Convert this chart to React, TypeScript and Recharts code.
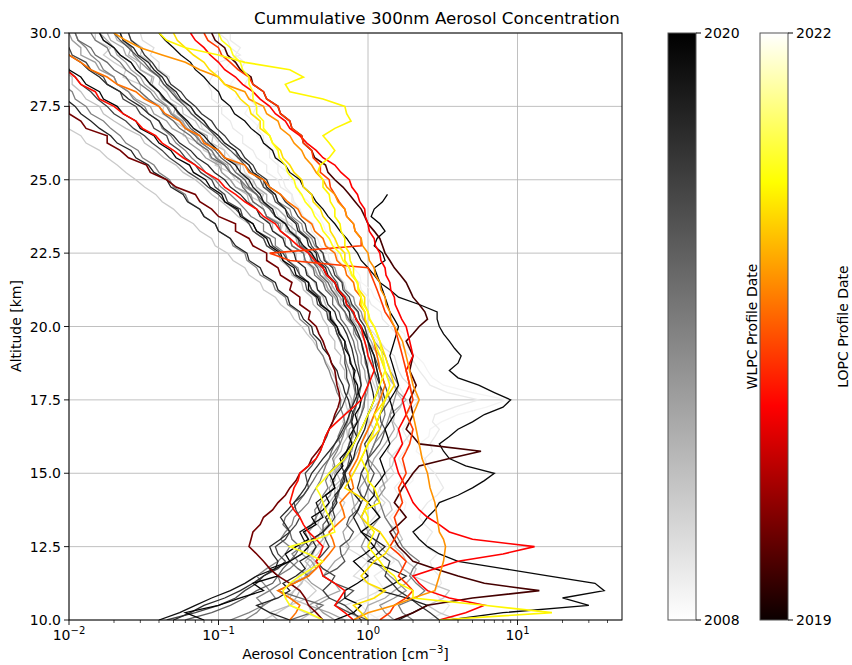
import { CartesianGrid, Line, LineChart, XAxis, YAxis } from 'recharts'

// altitude levels (km) shared by every profile: 10 to 30 in 0.25 km steps
const altitudes = [
  10, 10.25, 10.5, 10.75, 11, 11.25, 11.5, 11.75, 12, 12.25, 12.5, 12.75, 13, 13.25, 13.5, 13.75, 14, 14.25, 14.5, 14.75,
  15, 15.25, 15.5, 15.75, 16, 16.25, 16.5, 16.75, 17, 17.25, 17.5, 17.75, 18, 18.25, 18.5, 18.75, 19, 19.25, 19.5, 19.75,
  20, 20.25, 20.5, 20.75, 21, 21.25, 21.5, 21.75, 22, 22.25, 22.5, 22.75, 23, 23.25, 23.5, 23.75, 24, 24.25, 24.5, 24.75,
  25, 25.25, 25.5, 25.75, 26, 26.25, 26.5, 26.75, 27, 27.25, 27.5, 27.75, 28, 28.25, 28.5, 28.75, 29, 29.25, 29.5, 29.75,
  30,
]

// WLPC launches (decimal year), oldest first
const wlpcDates = [2008.5, 2008.9, 2009.0, 2009.6, 2010.2, 2010.5, 2010.8, 2011.0, 2011.4, 2012.0, 2012.3, 2012.6, 2013.2, 2013.8, 2014.0, 2014.4, 2015.0, 2015.6, 2016.2, 2016.8, 2017.0, 2017.4, 2018.0, 2018.3, 2018.6, 2019.2, 2019.6, 2019.9, 2020.0]

// cumulative >300nm concentration [cm^-3] at each altitude level
const wlpcProfiles: (number | null)[][] = [
  [1.0, 1.4, 1.25, 1.1, 1.15, 1.45, 1.5, 1.3, 1.2, 1.45, 1.65, 1.4, 1.45, 1.6, 1.5, 1.75, 1.8, 1.6, 1.75, 2.0,
    2.0, 2.35, 2.4, 2.1, 2.2, 2.55, 2.6, 3.1, 4.0, 6.2, 8.5, 5.0, 3.2, 2.7, 2.5, 2.35, 2.1, 1.85, 1.8, 1.75,
    1.5, 1.45, 1.3, 1.25, 1.1, 1.05, 0.9, 0.88, 0.8, 0.7, 0.7, 0.6, 0.6, 0.52, 0.5, 0.47, 0.42, 0.4, 0.35, 0.34,
    0.3, 0.29, 0.25, 0.25, 0.22, 0.21, 0.18, 0.19, 0.17, 0.15, 0.16, 0.13, 0.14, 0.12, 0.13, 0.11, 0.12, 0.1, 0.11, 0.09,
    0.1],
  [1.2, 1.0, 0.9, 1.1, 1.3, 1.2, 1.1, 1.3, 1.5, 1.4, 1.3, 1.45, 1.6, 1.5, 1.4, 1.55, 1.7, 1.6, 1.5, 1.65,
    1.8, 1.7, 1.6, 1.75, 1.9, 1.8, 1.7, 1.85, 2.0, 1.9, 1.8, 1.7, 1.6, 1.5, 1.45, 1.35, 1.3, 1.2, 1.15, 1.05,
    1.0, 0.92, 0.9, 0.82, 0.8, 0.72, 0.7, 0.63, 0.6, 0.55, 0.54, 0.48, 0.46, 0.42, 0.41, 0.36, 0.35, 0.32, 0.31, 0.28,
    0.27, 0.25, 0.25, 0.22, 0.22, 0.2, 0.2, 0.18, 0.19, 0.17, 0.18, 0.16, 0.17, 0.15, 0.16, 0.14, 0.15, 0.13, 0.14, 0.12,
    0.12],
  [2.5, 3.2, 3.5, 3.0, 2.8, 3.1, 3.0, 2.7, 2.6, 2.9, 2.4, 2.5, 2.7, 2.4, 2.2, 2.3, 2.5, 2.9, 3.2, 3.0,
    2.8, 2.5, 2.4, 2.7, 2.6, 2.8, 3.0, 2.7, 2.8, 3.8, 5.5, 3.4, 2.6, 2.4, 2.2, 2.05, 1.9, 1.75, 1.6, 1.55,
    1.4, 1.25, 1.22, 1.05, 1.0, 0.9, 0.88, 0.76, 0.72, 0.63, 0.62, 0.53, 0.5, 0.44, 0.43, 0.37, 0.35, 0.31, 0.31, 0.26,
    0.25, 0.21, 0.21, 0.18, 0.17, 0.145, 0.145, 0.125, 0.12, 0.105, 0.105, 0.09, 0.09, 0.085, 0.09, 0.1, 0.1, 0.14, 0.12, 0.115,
    0.1],
  [0.9, 0.75, 0.7, 0.95, 1.2, 1.0, 0.8, 0.9, 1.0, 0.85, 0.7, 0.8, 0.9, 1.0, 1.1, 1.2, 1.3, 1.15, 1.2, 1.35,
    1.5, 1.4, 1.4, 1.55, 1.7, 1.85, 2.0, 1.9, 1.8, 2.0, 2.2, 2.0, 1.9, 1.7, 1.6, 1.55, 1.5, 1.3, 1.2, 1.1,
    1.0, 0.92, 0.85, 0.78, 0.7, 0.64, 0.63, 0.53, 0.5, 0.45, 0.44, 0.36, 0.35, 0.31, 0.31, 0.25, 0.24, 0.21, 0.21, 0.17,
    0.17, 0.15, 0.145, 0.12, 0.11, 0.1, 0.092, 0.078, 0.075, 0.065, 0.063, 0.052, 0.05, 0.046, 0.047, 0.04, 0.04, 0.035, 0.037, 0.031,
    0.03],
  [0.5, 0.38, 0.3, 0.4, 0.45, 0.4, 0.35, 0.38, 0.4, 0.46, 0.5, 0.52, 0.55, 0.6, 0.6, 0.66, 0.7, 0.62, 0.65, 0.72,
    0.8, 0.85, 0.9, 0.95, 1.0, 1.08, 1.1, 1.02, 1.0, 1.1, 1.2, 1.15, 1.1, 1.05, 1.0, 0.98, 0.95, 0.92, 0.9, 0.85,
    0.8, 0.75, 0.7, 0.64, 0.6, 0.55, 0.5, 0.46, 0.42, 0.37, 0.38, 0.31, 0.3, 0.26, 0.27, 0.21, 0.2, 0.19, 0.155, 0.15,
    0.13, 0.12, 0.095, 0.1, 0.08, 0.075, 0.058, 0.06, 0.05, 0.042, 0.043, 0.033, 0.03, 0.03, 0.023, 0.024, 0.02, 0.017, 0.019, 0.015,
    0.015],
  [0.2, 0.25, 0.3, 0.28, 0.32, 0.36, 0.34, 0.4, 0.44, 0.4, 0.46, 0.5, 0.48, 0.54, 0.58, 0.55, 0.6, 0.64, 0.62, 0.68,
    0.7, 0.66, 0.72, 0.76, 0.74, 0.78, 0.8, 0.76, 0.75, 0.72, 0.7, 0.66, 0.64, 0.6, 0.57, 0.53, 0.5, 0.46, 0.43, 0.39,
    0.36, 0.32, 0.3, 0.26, 0.24, 0.2, 0.19, 0.16, 0.15, 0.125, 0.115, 0.095, 0.09, 0.075, 0.068, 0.056, 0.05, 0.042, 0.038, 0.032,
    0.028, 0.024, 0.021, 0.018, 0.016, 0.013, 0.012, 0.0098, 0.009, 0.0078, 0.007, 0.0062, 0.006, 0.0055, 0.005, 0.005, 0.005, 0.005, 0.005, 0.005,
    0.005],
  [4.0, 3.0, 2.5, 3.2, 3.5, 2.6, 2.0, 2.1, 1.8, 1.7, 1.5, 1.7, 1.6, 1.4, 1.3, 1.45, 1.4, 1.25, 1.2, 1.35,
    1.3, 1.45, 1.5, 1.35, 1.4, 1.55, 1.6, 1.48, 1.5, 1.65, 1.7, 1.55, 1.5, 1.35, 1.3, 1.28, 1.2, 1.08, 1.0, 0.96,
    0.9, 0.8, 0.8, 0.66, 0.65, 0.57, 0.58, 0.48, 0.48, 0.41, 0.42, 0.35, 0.34, 0.28, 0.29, 0.24, 0.23, 0.19, 0.2, 0.16,
    0.16, 0.13, 0.135, 0.11, 0.11, 0.09, 0.092, 0.075, 0.07, 0.058, 0.057, 0.048, 0.045, 0.04, 0.041, 0.035, 0.035, 0.03, 0.031, 0.026,
    0.025],
  [0.35, 0.42, 0.4, 0.3, 0.32, 0.36, 0.38, 0.42, 0.45, 0.39, 0.4, 0.46, 0.48, 0.55, 0.52, 0.47, 0.5, 0.56, 0.58, 0.65,
    0.62, 0.58, 0.6, 0.66, 0.68, 0.73, 0.72, 0.68, 0.7, 0.76, 0.78, 0.74, 0.75, 0.7, 0.7, 0.65, 0.66, 0.6, 0.6, 0.55,
    0.54, 0.5, 0.48, 0.43, 0.42, 0.37, 0.36, 0.31, 0.3, 0.26, 0.25, 0.21, 0.2, 0.17, 0.16, 0.135, 0.12, 0.105, 0.09, 0.08,
    0.07, 0.058, 0.052, 0.043, 0.038, 0.032, 0.03, 0.024, 0.02, 0.017, 0.016, 0.013, 0.012, 0.0105, 0.0105, 0.009, 0.009, 0.008, 0.0082, 0.0072,
    0.007],
  [0.25, 0.22, 0.3, 0.33, 0.35, 0.3, 0.4, 0.42, 0.38, 0.43, 0.45, 0.5, 0.5, 0.46, 0.48, 0.52, 0.55, 0.6, 0.6, 0.56,
    0.58, 0.64, 0.7, 0.72, 0.75, 0.8, 0.8, 0.84, 0.85, 0.88, 0.9, 0.86, 0.85, 0.82, 0.8, 0.77, 0.75, 0.72, 0.7, 0.65,
    0.62, 0.58, 0.55, 0.52, 0.5, 0.46, 0.44, 0.4, 0.38, 0.33, 0.33, 0.28, 0.28, 0.23, 0.23, 0.19, 0.18, 0.16, 0.155, 0.13,
    0.12, 0.105, 0.104, 0.088, 0.085, 0.072, 0.072, 0.06, 0.058, 0.05, 0.052, 0.042, 0.04, 0.036, 0.037, 0.03, 0.03, 0.025, 0.026, 0.021,
    0.02],
  [0.8, 0.95, 1.0, 1.3, 1.5, 1.8, 2.0, 1.7, 1.6, 1.35, 1.2, 1.1, 1.0, 0.95, 0.9, 0.82, 0.8, 0.78, 0.75, 0.72,
    0.7, 0.76, 0.8, 0.85, 0.9, 0.94, 1.0, 1.06, 1.1, 1.15, 1.2, 1.18, 1.15, 1.12, 1.1, 1.04, 1.0, 0.98, 0.95, 0.9,
    0.85, 0.78, 0.75, 0.7, 0.65, 0.6, 0.56, 0.51, 0.48, 0.42, 0.41, 0.34, 0.33, 0.33, 0.29, 0.28, 0.25, 0.21, 0.21, 0.18,
    0.17, 0.14, 0.14, 0.11, 0.1, 0.085, 0.084, 0.068, 0.062, 0.053, 0.052, 0.043, 0.04, 0.035, 0.036, 0.03, 0.028, 0.024, 0.023, 0.019,
    0.018],
  [0.7, 0.55, 0.4, 0.5, 0.65, 0.6, 0.5, 0.55, 0.6, 0.7, 0.75, 0.7, 0.68, 0.74, 0.8, 0.78, 0.85, 0.9, 0.88, 0.95,
    1.0, 1.05, 1.1, 1.2, 1.3, 1.4, 1.5, 1.45, 1.4, 1.6, 1.8, 1.6, 1.5, 1.4, 1.3, 1.25, 1.2, 1.1, 1.05, 0.98,
    0.95, 0.88, 0.85, 0.76, 0.72, 0.64, 0.6, 0.52, 0.5, 0.43, 0.42, 0.35, 0.34, 0.29, 0.28, 0.24, 0.23, 0.19, 0.18, 0.15,
    0.14, 0.12, 0.115, 0.097, 0.09, 0.077, 0.072, 0.062, 0.057, 0.049, 0.046, 0.04, 0.037, 0.032, 0.03, 0.026, 0.024, 0.021, 0.02, 0.018,
    0.016],
  [0.6, 0.5, 0.45, 0.55, 0.5, 0.42, 0.38, 0.45, 0.42, 0.36, 0.35, 0.42, 0.4, 0.44, 0.45, 0.48, 0.5, 0.56, 0.55, 0.6,
    0.6, 0.66, 0.7, 0.78, 0.8, 0.74, 0.75, 0.85, 0.9, 0.92, 0.95, 0.99, 1.0, 0.96, 0.95, 0.9, 0.9, 0.86, 0.85, 0.8,
    0.8, 0.72, 0.7, 0.63, 0.6, 0.54, 0.52, 0.46, 0.44, 0.38, 0.37, 0.31, 0.3, 0.26, 0.26, 0.21, 0.2, 0.17, 0.165, 0.13,
    0.12, 0.105, 0.1, 0.082, 0.075, 0.064, 0.06, 0.049, 0.045, 0.037, 0.035, 0.028, 0.025, 0.021, 0.02, 0.016, 0.015, 0.012, 0.012, 0.0105,
    0.01],
  [1.5, 1.3, 1.2, 1.5, 1.8, 1.6, 1.4, 1.25, 1.1, 0.98, 0.9, 0.95, 1.0, 1.1, 1.2, 1.12, 1.1, 1.2, 1.3, 1.25,
    1.2, 1.1, 1.0, 1.05, 1.1, 1.2, 1.3, 1.35, 1.4, 1.45, 1.5, 1.55, 1.6, 1.5, 1.4, 1.35, 1.3, 1.2, 1.1, 1.05,
    1.0, 0.93, 0.9, 0.82, 0.8, 0.7, 0.68, 0.62, 0.6, 0.52, 0.5, 0.44, 0.42, 0.37, 0.36, 0.31, 0.3, 0.25, 0.24, 0.2,
    0.2, 0.17, 0.16, 0.135, 0.13, 0.11, 0.1, 0.086, 0.08, 0.07, 0.065, 0.054, 0.05, 0.043, 0.04, 0.034, 0.03, 0.027, 0.026, 0.023,
    0.022],
  [0.15, 0.18, 0.2, 0.24, 0.22, 0.2, 0.18, 0.21, 0.25, 0.28, 0.3, 0.26, 0.28, 0.31, 0.32, 0.36, 0.4, 0.42, 0.45, 0.48,
    0.5, 0.52, 0.55, 0.6, 0.65, 0.68, 0.7, 0.73, 0.75, 0.78, 0.8, 0.82, 0.8, 0.78, 0.75, 0.72, 0.7, 0.68, 0.65, 0.62,
    0.6, 0.55, 0.55, 0.48, 0.48, 0.42, 0.4, 0.35, 0.34, 0.29, 0.28, 0.24, 0.24, 0.2, 0.2, 0.165, 0.15, 0.135, 0.12, 0.104,
    0.095, 0.082, 0.075, 0.066, 0.06, 0.052, 0.048, 0.042, 0.04, 0.034, 0.032, 0.027, 0.025, 0.021, 0.02, 0.017, 0.016, 0.014, 0.013, 0.0115,
    0.011],
  [0.12, 0.16, 0.2, 0.18, 0.22, 0.26, 0.25, 0.3, 0.34, 0.31, 0.36, 0.4, 0.38, 0.42, 0.45, 0.44, 0.48, 0.5, 0.54, 0.52,
    0.55, 0.6, 0.58, 0.62, 0.65, 0.63, 0.66, 0.7, 0.68, 0.65, 0.66, 0.62, 0.6, 0.57, 0.55, 0.52, 0.5, 0.46, 0.45, 0.41,
    0.4, 0.35, 0.34, 0.29, 0.28, 0.24, 0.23, 0.19, 0.18, 0.155, 0.15, 0.125, 0.12, 0.1, 0.095, 0.08, 0.075, 0.063, 0.06, 0.05,
    0.047, 0.04, 0.037, 0.031, 0.029, 0.024, 0.022, 0.019, 0.017, 0.014, 0.013, 0.011, 0.0105, 0.009, 0.0085, 0.0075, 0.007, 0.0065, 0.006, 0.0055,
    0.005],
  [2.0, 1.7, 1.6, 2.1, 2.4, 2.1, 1.9, 2.0, 2.2, 1.9, 1.7, 1.6, 1.5, 1.4, 1.3, 1.25, 1.2, 1.1, 1.0, 0.95,
    0.9, 0.95, 1.0, 1.05, 1.1, 1.15, 1.2, 1.25, 1.3, 1.28, 1.25, 1.22, 1.2, 1.18, 1.15, 1.12, 1.1, 1.05, 1.0, 0.95,
    0.9, 0.83, 0.8, 0.72, 0.7, 0.63, 0.6, 0.53, 0.5, 0.44, 0.42, 0.36, 0.35, 0.3, 0.28, 0.24, 0.22, 0.19, 0.18, 0.155,
    0.14, 0.12, 0.11, 0.096, 0.09, 0.077, 0.07, 0.06, 0.055, 0.048, 0.045, 0.038, 0.035, 0.03, 0.028, 0.024, 0.022, 0.019, 0.018, 0.015,
    0.014],
  [0.3, 0.42, 0.5, 0.35, 0.25, 0.32, 0.4, 0.34, 0.3, 0.33, 0.35, 0.31, 0.3, 0.27, 0.28, 0.31, 0.34, 0.37, 0.4, 0.43,
    0.46, 0.5, 0.55, 0.57, 0.6, 0.66, 0.7, 0.76, 0.8, 0.83, 0.85, 0.88, 0.9, 0.89, 0.88, 0.86, 0.85, 0.82, 0.8, 0.76,
    0.72, 0.66, 0.64, 0.58, 0.58, 0.52, 0.5, 0.44, 0.43, 0.38, 0.37, 0.31, 0.3, 0.26, 0.25, 0.21, 0.2, 0.17, 0.16, 0.145,
    0.14, 0.12, 0.11, 0.09, 0.085, 0.072, 0.065, 0.055, 0.05, 0.043, 0.04, 0.034, 0.03, 0.026, 0.024, 0.02, 0.018, 0.015, 0.014, 0.0115,
    0.011],
  [0.06, 0.09, 0.12, 0.15, 0.18, 0.23, 0.25, 0.27, 0.3, 0.36, 0.4, 0.43, 0.5, 0.5, 0.55, 0.56, 0.6, 0.63, 0.65, 0.66,
    0.7, 0.73, 0.75, 0.76, 0.8, 0.84, 0.85, 0.86, 0.9, 0.94, 0.95, 0.96, 1.0, 1.02, 1.0, 0.96, 0.95, 0.93, 0.9, 0.83,
    0.8, 0.74, 0.7, 0.64, 0.62, 0.57, 0.54, 0.48, 0.46, 0.42, 0.4, 0.35, 0.34, 0.3, 0.28, 0.24, 0.22, 0.2, 0.18, 0.16,
    0.15, 0.13, 0.12, 0.104, 0.095, 0.083, 0.075, 0.065, 0.06, 0.054, 0.05, 0.043, 0.04, 0.035, 0.032, 0.028, 0.026, 0.022, 0.02, 0.017,
    0.016],
  [1.0, 0.75, 0.6, 0.7, 0.8, 0.6, 0.5, 0.62, 0.7, 0.66, 0.65, 0.75, 0.8, 0.72, 0.75, 0.85, 0.9, 0.96, 1.0, 1.05,
    1.1, 1.02, 1.0, 1.1, 1.2, 1.26, 1.3, 1.22, 1.2, 1.3, 1.4, 1.35, 1.3, 1.25, 1.2, 1.15, 1.1, 1.04, 1.0, 0.94,
    0.88, 0.84, 0.78, 0.75, 0.7, 0.64, 0.62, 0.57, 0.54, 0.48, 0.46, 0.42, 0.4, 0.35, 0.34, 0.3, 0.28, 0.24, 0.23, 0.2,
    0.19, 0.165, 0.15, 0.135, 0.12, 0.105, 0.095, 0.085, 0.075, 0.066, 0.06, 0.053, 0.048, 0.043, 0.04, 0.035, 0.032, 0.028, 0.025, 0.022,
    0.02],
  [0.045, 0.07, 0.1, 0.13, 0.15, 0.18, 0.2, 0.25, 0.28, 0.25, 0.24, 0.28, 0.3, 0.33, 0.35, 0.33, 0.32, 0.37, 0.4, 0.39,
    0.38, 0.42, 0.45, 0.48, 0.5, 0.53, 0.55, 0.58, 0.62, 0.67, 0.7, 0.73, 0.75, 0.72, 0.72, 0.7, 0.7, 0.68, 0.66, 0.62,
    0.6, 0.54, 0.53, 0.46, 0.45, 0.39, 0.38, 0.32, 0.3, 0.27, 0.25, 0.21, 0.2, 0.17, 0.16, 0.145, 0.14, 0.115, 0.11, 0.095,
    0.09, 0.076, 0.07, 0.06, 0.055, 0.047, 0.045, 0.037, 0.035, 0.03, 0.028, 0.023, 0.022, 0.018, 0.017, 0.014, 0.013, 0.0105, 0.01, 0.0085,
    0.008],
  [0.9, 0.8, 0.7, 0.55, 0.5, 0.56, 0.6, 0.5, 0.45, 0.5, 0.55, 0.52, 0.5, 0.56, 0.6, 0.58, 0.58, 0.62, 0.65, 0.68,
    0.7, 0.66, 0.68, 0.72, 0.75, 0.78, 0.8, 0.77, 0.78, 0.82, 0.85, 0.83, 0.82, 0.8, 0.8, 0.77, 0.75, 0.72, 0.7, 0.65,
    0.62, 0.57, 0.55, 0.49, 0.47, 0.42, 0.4, 0.35, 0.33, 0.29, 0.27, 0.23, 0.22, 0.18, 0.17, 0.145, 0.13, 0.11, 0.1, 0.085,
    0.075, 0.063, 0.055, 0.047, 0.042, 0.036, 0.032, 0.027, 0.024, 0.02, 0.018, 0.0155, 0.014, 0.012, 0.011, 0.0097, 0.009, 0.0082, 0.008, 0.0072,
    0.007],
  [3.0, 2.6, 2.2, 1.9, 1.6, 1.45, 1.3, 1.35, 1.4, 1.2, 1.1, 1.15, 1.2, 1.0, 0.9, 0.95, 1.0, 0.9, 0.85, 0.88,
    0.9, 0.96, 1.0, 0.98, 0.95, 1.02, 1.1, 1.15, 1.2, 1.25, 1.3, 1.26, 1.2, 1.15, 1.1, 1.08, 1.05, 1.02, 1.0, 0.98,
    0.95, 0.88, 0.86, 0.78, 0.75, 0.68, 0.67, 0.6, 0.58, 0.51, 0.5, 0.45, 0.44, 0.39, 0.38, 0.34, 0.32, 0.28, 0.26, 0.22,
    0.21, 0.18, 0.17, 0.15, 0.14, 0.12, 0.11, 0.097, 0.09, 0.077, 0.07, 0.061, 0.056, 0.048, 0.045, 0.039, 0.036, 0.032, 0.03, 0.026,
    0.025],
  [0.05, 0.065, 0.08, 0.11, 0.14, 0.17, 0.2, 0.24, 0.25, 0.23, 0.22, 0.26, 0.3, 0.28, 0.26, 0.29, 0.32, 0.35, 0.38, 0.4,
    0.42, 0.46, 0.5, 0.55, 0.6, 0.64, 0.68, 0.72, 0.75, 0.78, 0.82, 0.86, 0.9, 0.88, 0.85, 0.82, 0.8, 0.78, 0.75, 0.72,
    0.68, 0.62, 0.6, 0.54, 0.52, 0.46, 0.45, 0.39, 0.38, 0.33, 0.32, 0.28, 0.27, 0.23, 0.22, 0.19, 0.18, 0.155, 0.14, 0.12,
    0.11, 0.094, 0.085, 0.072, 0.065, 0.055, 0.05, 0.043, 0.04, 0.034, 0.03, 0.025, 0.022, 0.018, 0.016, 0.0135, 0.012, 0.01, 0.009, 0.0077,
    0.007],
  [0.3, 0.22, 0.18, 0.25, 0.3, 0.27, 0.33, 0.38, 0.35, 0.42, 0.45, 0.42, 0.5, 0.55, 0.52, 0.58, 0.62, 0.6, 0.66, 0.7,
    0.68, 0.74, 0.78, 0.75, 0.8, 0.84, 0.8, 0.78, 0.8, 0.76, 0.74, 0.7, 0.68, 0.64, 0.62, 0.57, 0.55, 0.5, 0.48, 0.43,
    0.42, 0.37, 0.35, 0.3, 0.29, 0.25, 0.24, 0.2, 0.19, 0.16, 0.155, 0.13, 0.12, 0.1, 0.095, 0.08, 0.075, 0.062, 0.058, 0.048,
    0.045, 0.037, 0.034, 0.028, 0.026, 0.021, 0.019, 0.016, 0.014, 0.012, 0.011, 0.0095, 0.009, 0.0078, 0.0072, 0.0065, 0.006, 0.0055, 0.005, 0.005,
    0.005],
  [1.6, 2.0, 2.5, 1.8, 1.2, 1.5, 1.8, 1.4, 1.0, 1.15, 1.3, 1.1, 0.9, 0.85, 0.8, 0.86, 0.9, 0.82, 0.75, 0.72,
    0.7, 0.75, 0.8, 0.82, 0.85, 0.9, 0.95, 0.98, 1.0, 1.05, 1.1, 1.08, 1.05, 1.02, 1.0, 0.98, 0.95, 0.92, 0.9, 0.86,
    0.82, 0.76, 0.75, 0.69, 0.68, 0.62, 0.6, 0.54, 0.52, 0.46, 0.45, 0.4, 0.39, 0.34, 0.33, 0.29, 0.28, 0.25, 0.24, 0.21,
    0.2, 0.17, 0.16, 0.14, 0.13, 0.11, 0.1, 0.087, 0.08, 0.07, 0.065, 0.056, 0.052, 0.045, 0.042, 0.037, 0.034, 0.029, 0.027, 0.023,
    0.022],
  [0.04, 0.055, 0.07, 0.09, 0.12, 0.15, 0.18, 0.24, 0.3, 0.36, 0.4, 0.37, 0.35, 0.42, 0.5, 0.47, 0.45, 0.52, 0.6, 0.58,
    0.55, 0.62, 0.7, 0.75, 0.8, 0.85, 0.9, 0.95, 1.0, 1.05, 1.1, 1.15, 1.2, 1.18, 1.15, 1.12, 1.1, 1.05, 1.0, 0.95,
    0.9, 0.83, 0.8, 0.72, 0.7, 0.63, 0.6, 0.53, 0.5, 0.45, 0.42, 0.37, 0.34, 0.3, 0.28, 0.24, 0.23, 0.2, 0.19, 0.17,
    0.16, 0.14, 0.13, 0.11, 0.1, 0.088, 0.08, 0.068, 0.062, 0.055, 0.05, 0.044, 0.04, 0.035, 0.032, 0.028, 0.026, 0.022, 0.02, 0.017,
    0.016],
  [3.5, 8.0, 30.0, 20.0, 38.0, 33.0, 16.0, 8.0, 4.0, 3.0, 2.5, 2.2, 2.0, 2.3, 2.5, 2.8, 3.0, 4.0, 5.0, 6.0,
    7.0, 4.5, 3.5, 3.2, 3.0, 3.5, 4.0, 5.0, 6.0, 8.0, 9.0, 7.0, 5.5, 4.0, 3.5, 4.0, 4.2, 3.8, 3.5, 3.2,
    3.0, 2.9, 2.9, 2.2, 1.6, 1.4, 1.2, 1.1, 1.0, 0.9, 0.85, 0.78, 0.72, 0.65, 0.6, 0.54, 0.5, 0.45, 0.42, 0.37,
    0.35, 0.3, 0.28, 0.24, 0.23, 0.2, 0.19, 0.165, 0.15, 0.128, 0.12, 0.105, 0.1, 0.088, 0.08, 0.07, 0.065, 0.056, 0.05, 0.044,
    0.04],
  [0.08, 0.06, 0.1, 0.14, 0.2, 0.17, 0.25, 0.22, 0.3, 0.28, 0.33, 0.4, 0.37, 0.45, 0.42, 0.5, 0.55, 0.52, 0.6, 0.58,
    0.62, 0.68, 0.65, 0.72, 0.78, 0.75, 0.8, 0.85, 0.82, 0.88, 0.9, 0.86, 0.85, 0.8, 0.82, 0.76, 0.75, 0.7, 0.7, 0.64,
    0.62, 0.56, 0.56, 0.48, 0.46, 0.4, 0.4, 0.33, 0.32, 0.27, 0.26, 0.22, 0.21, 0.18, 0.17, 0.14, 0.135, 0.11, 0.105, 0.088,
    0.082, 0.068, 0.064, 0.052, 0.048, 0.04, 0.037, 0.03, 0.028, 0.023, 0.021, 0.017, 0.016, 0.013, 0.012, 0.01, 0.0095, 0.008, 0.0075, 0.0065,
    0.006],
  [0.6, 0.8, 0.9, 0.7, 0.7, 0.85, 1.0, 0.9, 0.8, 0.95, 1.1, 1.0, 0.9, 1.05, 1.2, 1.1, 1.0, 1.1, 1.1, 1.2,
    1.3, 1.25, 1.2, 1.3, 1.4, 1.35, 1.3, 1.4, 1.5, 1.45, 1.4, 1.5, 1.6, 1.55, 1.5, 1.45, 1.4, 1.45, 1.5, 1.55,
    1.6, 1.5, 1.4, 1.35, 1.3, 1.25, 1.2, 1.15, 1.1, 1.3, 1.25, 1.1, 1.15, 1.3, 1.2, 1.05, 1.1, 1.25, 1.35, null,
    null, null, null, null, null, null, null, null, null, null, null, null, null, null, null, null, null, null, null, null,
    null],
]

// LOPC launches (decimal year) and profiles
const lopcDates = [2019.25, 2019.45, 2020.05, 2020.15, 2020.35, 2020.6, 2020.75, 2021.1, 2021.2, 2021.3]
const lopcProfiles: (number | null)[][] = [
  [1.5, 2.0, 2.5, 5.0, 14.0, 6.0, 4.0, 2.8, 2.0, 1.8, 1.6, 1.5, 1.4, 1.6, 1.8, 1.65, 1.5, 1.6, 1.7, 1.85,
    2.0, 2.2, 3.5, 5.7, 2.2, 2.0, 1.8, 1.9, 2.0, 1.95, 1.9, 2.0, 2.1, 2.0, 1.9, 1.95, 2.0, 1.9, 1.8, 2.0,
    2.2, 2.5, 2.4, 2.2, 2.0, 1.9, 1.8, 1.65, 1.5, 1.4, 1.3, 1.25, 1.2, 1.1, 1.0, 0.95, 0.9, 0.82, 0.75, 0.68,
    0.6, 0.54, 0.52, 0.44, 0.42, 0.37, 0.36, 0.31, 0.3, 0.26, 0.25, 0.21, 0.2, 0.17, 0.165, 0.14, 0.13, 0.115, 0.11, 0.095,
    0.09],
  [0.5, 0.45, 0.4, 0.38, 0.35, 0.3, 0.25, 0.22, 0.2, 0.18, 0.16, 0.165, 0.17, 0.19, 0.2, 0.23, 0.25, 0.28, 0.3, 0.33,
    0.35, 0.4, 0.42, 0.46, 0.5, 0.52, 0.55, 0.58, 0.6, 0.63, 0.65, 0.64, 0.62, 0.61, 0.6, 0.57, 0.55, 0.52, 0.5, 0.47,
    0.45, 0.4, 0.41, 0.35, 0.35, 0.3, 0.31, 0.26, 0.25, 0.21, 0.21, 0.17, 0.16, 0.13, 0.13, 0.1, 0.09, 0.075, 0.07, 0.052,
    0.045, 0.035, 0.033, 0.025, 0.022, 0.018, 0.018, 0.013, 0.012, 0.01, 0.01, 0.008, 0.008, 0.0072, 0.0075, 0.0068, 0.007, 0.0064, 0.0066, 0.006,
    0.006],
  [3.0, 4.5, 6.0, 3.5, 2.5, 2.2, 2.0, 2.8, 4.0, 8.0, 13.0, 5.0, 3.5, 3.0, 2.5, 2.2, 2.0, 1.9, 1.8, 1.7,
    1.6, 1.55, 1.5, 1.6, 1.7, 1.65, 1.6, 1.7, 1.8, 1.75, 1.7, 1.8, 1.9, 1.85, 1.8, 1.9, 2.0, 1.95, 1.9, 1.85,
    1.8, 1.68, 1.6, 1.52, 1.5, 1.42, 1.4, 1.32, 1.3, 1.22, 1.2, 1.12, 1.1, 1.02, 1.0, 0.96, 0.95, 0.88, 0.85, 0.78,
    0.75, 0.66, 0.6, 0.5, 0.45, 0.39, 0.35, 0.3, 0.28, 0.24, 0.22, 0.19, 0.17, 0.145, 0.13, 0.11, 0.1, 0.088, 0.08, 0.07,
    0.065],
  [0.8, 0.7, 0.6, 0.65, 0.7, 0.6, 0.5, 0.48, 0.45, 0.48, 0.5, 0.45, 0.4, 0.37, 0.35, 0.32, 0.3, 0.31, 0.32, 0.34,
    0.35, 0.4, 0.45, 0.48, 0.5, 0.52, 0.55, 0.62, 0.7, 0.8, 0.9, 0.95, 1.0, 1.05, 1.1, 1.05, 1.0, 0.98, 0.95, 0.92,
    0.9, 0.83, 0.8, 0.72, 0.7, 0.63, 0.6, 0.53, 0.5, 0.44, 0.4, 0.34, 0.3, 0.26, 0.24, 0.2, 0.18, 0.15, 0.13, 0.11,
    0.1, 0.082, 0.07, 0.058, 0.05, 0.042, 0.038, 0.031, 0.028, 0.023, 0.02, 0.016, 0.015, 0.012, 0.011, 0.0095, 0.009, 0.008, 0.008, 0.0072,
    0.007],
  [1.2, 1.4, 1.5, 1.8, 2.0, 1.8, 1.6, 1.7, 1.8, 1.6, 1.4, 1.5, 1.6, 1.55, 1.5, 1.6, 1.7, 1.65, 1.6, 1.7,
    1.8, 1.75, 1.7, 1.8, 1.9, 1.95, 2.0, 1.9, 1.8, 1.9, 2.0, 1.95, 1.9, 1.85, 1.8, 1.75, 1.7, 1.65, 1.6, 1.55,
    1.5, 1.4, 1.3, 1.25, 1.2, 1.15, 1.1, 1.05, 1.0, 0.3, 0.22, 0.9, 0.9, 0.82, 0.8, 0.72, 0.7, 0.64, 0.6, 0.56,
    0.55, 0.48, 0.48, 0.43, 0.42, 0.37, 0.36, 0.31, 0.3, 0.26, 0.25, 0.21, 0.2, 0.17, 0.16, 0.135, 0.12, 0.105, 0.1, 0.085,
    0.08],
  [0.3, 0.33, 0.35, 0.3, 0.25, 0.32, 0.4, 0.45, 0.5, 0.55, 0.6, 0.58, 0.55, 0.62, 0.7, 0.68, 0.65, 0.72, 0.8, 0.78,
    0.75, 0.8, 0.85, 0.88, 0.9, 0.95, 1.0, 1.05, 1.1, 1.15, 1.2, 1.25, 1.3, 1.25, 1.2, 1.18, 1.15, 1.12, 1.1, 1.05,
    1.0, 0.95, 0.95, 0.88, 0.9, 0.82, 0.8, 0.72, 0.7, 0.62, 0.6, 0.52, 0.5, 0.44, 0.42, 0.36, 0.34, 0.29, 0.26, 0.22,
    0.2, 0.16, 0.15, 0.11, 0.1, 0.08, 0.075, 0.06, 0.055, 0.044, 0.04, 0.032, 0.028, 0.021, 0.018, 0.014, 0.012, 0.01, 0.009, 0.0085,
    0.008],
  [0.8, 1.0, 1.5, 2.0, 2.8, 2.9, 3.0, 3.1, 3.2, 3.25, 3.3, 3.2, 3.0, 2.95, 2.9, 2.85, 2.8, 2.7, 2.6, 2.55,
    2.5, 2.4, 2.3, 2.25, 2.2, 2.15, 2.1, 2.05, 2.0, 2.1, 2.2, 2.1, 2.0, 1.95, 1.9, 1.85, 1.8, 1.75, 1.7, 1.6,
    1.5, 1.42, 1.4, 1.32, 1.3, 1.22, 1.2, 1.12, 1.1, 1.02, 1.0, 0.92, 0.9, 0.82, 0.8, 0.72, 0.7, 0.63, 0.6, 0.53,
    0.5, 0.45, 0.42, 0.38, 0.36, 0.32, 0.3, 0.26, 0.25, 0.21, 0.2, 0.16, 0.15, 0.11, 0.1, 0.075, 0.06, 0.042, 0.03, 0.024,
    0.02],
  [1.0, 0.9, 0.8, 1.1, 1.3, 1.0, 0.9, 1.0, 1.1, 1.3, 1.4, 1.3, 1.2, 1.0, 0.9, 0.95, 1.0, 0.85, 0.7, 0.75,
    0.8, 0.85, 0.9, 0.95, 1.0, 1.1, 1.2, 1.15, 1.1, 1.2, 1.3, 1.4, 1.5, 1.45, 1.4, 1.35, 1.3, 1.25, 1.2, 1.15,
    1.1, 1.02, 1.0, 0.95, 0.95, 0.87, 0.85, 0.78, 0.75, 0.7, 0.7, 0.63, 0.6, 0.56, 0.55, 0.5, 0.48, 0.43, 0.42, 0.37,
    0.36, 0.32, 0.3, 0.27, 0.26, 0.23, 0.22, 0.19, 0.19, 0.165, 0.16, 0.14, 0.13, 0.11, 0.1, 0.087, 0.08, 0.068, 0.06, 0.053,
    0.05],
  [3.0, 17.0, 6.0, 2.0, 2.0, 1.6, 1.5, 1.3, 1.2, 1.1, 1.0, 1.05, 1.1, 1.0, 1.0, 0.95, 1.2, 1.15, 1.1, 1.0,
    1.0, 0.95, 0.9, 0.95, 1.0, 1.05, 1.1, 1.15, 1.2, 1.25, 1.3, 1.35, 1.4, 1.35, 1.3, 1.25, 1.2, 1.15, 1.1, 1.05,
    1.0, 0.96, 0.95, 0.9, 0.9, 0.86, 0.85, 0.8, 0.8, 0.76, 0.75, 0.7, 0.7, 0.66, 0.65, 0.6, 0.6, 0.56, 0.55, 0.5,
    0.5, 0.46, 0.48, 0.55, 0.6, 0.55, 0.5, 0.6, 0.77, 0.72, 0.7, 0.5, 0.3, 0.28, 0.37, 0.3, 0.15, 0.1, 0.06, 0.045,
    0.04],
  [0.5, 0.4, 0.3, 0.28, 0.27, 0.3, 0.35, 0.42, 0.5, 0.4, 0.3, 0.45, 0.6, 0.58, 0.55, 0.52, 0.5, 0.48, 0.45, 0.5,
    0.55, 0.62, 0.7, 0.75, 0.8, 0.85, 0.9, 0.95, 1.0, 1.05, 1.1, 1.15, 1.2, 1.25, 1.3, 1.28, 1.25, 1.22, 1.2, 1.15,
    1.1, 1.03, 1.0, 0.93, 0.9, 0.86, 0.85, 0.78, 0.75, 0.68, 0.65, 0.58, 0.55, 0.5, 0.48, 0.44, 0.42, 0.38, 0.36, 0.33,
    0.32, 0.29, 0.28, 0.255, 0.25, 0.23, 0.22, 0.2, 0.2, 0.18, 0.18, 0.17, 0.17, 0.16, 0.16, 0.145, 0.14, 0.125, 0.12, 0.105,
    0.1],
]

const wlpcRange = [2008, 2020]
const lopcRange = [2019, 2022]

const majorX = [0.01, 0.1, 1, 10]
const minorX = [0.02, 0.03, 0.04, 0.05, 0.06, 0.07, 0.08, 0.09, 0.2, 0.3, 0.4, 0.5, 0.6, 0.7, 0.8, 0.9, 2, 3, 4, 5, 6, 7, 8, 9, 20, 30, 40]
const yTicks = [10, 12.5, 15, 17.5, 20, 22.5, 25, 27.5, 30]

const FONT = '"DejaVu Sans", sans-serif'
const W = 852
const H = 665
const plot = { left: 69, top: 33, right: 622, bottom: 620 }

const clamp = (v: number) => Math.max(0, Math.min(1, v))

// matplotlib gray_r: white at the first year, black at the last
function grayColor(date: number) {
  const t = clamp((date - wlpcRange[0]) / (wlpcRange[1] - wlpcRange[0]))
  const v = Math.round(255 * (1 - t))
  return `rgb(${v},${v},${v})`
}

// matplotlib "hot"
function hotColor(date: number) {
  const t = clamp((date - lopcRange[0]) / (lopcRange[1] - lopcRange[0]))
  const r = clamp(0.0416 + t / 0.365)
  const g = clamp((t - 0.365) / (0.746 - 0.365))
  const b = clamp((t - 0.746) / 0.254)
  return `rgb(${Math.round(r * 255)},${Math.round(g * 255)},${Math.round(b * 255)})`
}

function rows(values: (number | null)[]) {
  return altitudes
    .map((alt, i) => ({ alt, conc: values[i] }))
    .filter((r) => r.conc != null)
}

function ConcTick({ x, y, payload }: { x?: number; y?: number; payload?: { value: number } }) {
  const v = payload?.value ?? 1
  const major = majorX.includes(v)
  const exp = Math.round(Math.log10(v))
  return (
    <g>
      <line x1={x} x2={x} y1={y} y2={(y ?? 0) + (major ? 5 : 3)} stroke="#000" strokeWidth={major ? 0.9 : 0.7} />
      {major && (
        <text x={x} y={(y ?? 0) + 20} textAnchor="middle" fontSize={14} fontFamily={FONT} fill="#000">
          10<tspan dy={-6} fontSize={10}>{exp < 0 ? `\u2212${-exp}` : exp}</tspan>
        </text>
      )}
    </g>
  )
}

function AltTick({ x, y, payload }: { x?: number; y?: number; payload?: { value: number } }) {
  const v = payload?.value ?? 0
  return (
    <g>
      <line x1={(x ?? 0) - 5} x2={x} y1={y} y2={y} stroke="#000" strokeWidth={0.9} />
      <text x={(x ?? 0) - 8} y={(y ?? 0) + 5} textAnchor="end" fontSize={14} fontFamily={FONT} fill="#000">
        {v.toFixed(1)}
      </text>
    </g>
  )
}

function Colorbar({ x, id, stops, top, bottom, label, labelX }: { x: number; id: string; stops: [number, string][]; top: string; bottom: string; label: string; labelX: number }) {
  const w = 28
  const midY = (plot.top + plot.bottom) / 2
  return (
    <g>
      <defs>
        <linearGradient id={id} x1="0" y1="1" x2="0" y2="0">
          {stops.map(([o, c]) => <stop key={o} offset={o} stopColor={c} />)}
        </linearGradient>
      </defs>
      <rect x={x} y={plot.top} width={w} height={plot.bottom - plot.top} fill={`url(#${id})`} stroke="#555" strokeWidth={1} />
      <line x1={x + w} x2={x + w + 5} y1={plot.top} y2={plot.top} stroke="#000" />
      <line x1={x + w} x2={x + w + 5} y1={plot.bottom} y2={plot.bottom} stroke="#000" />
      <text x={x + w + 8} y={plot.top + 5} fontSize={14} fontFamily={FONT}>{top}</text>
      <text x={x + w + 8} y={plot.bottom + 5} fontSize={14} fontFamily={FONT}>{bottom}</text>
      <text x={labelX} y={midY} fontSize={14} fontFamily={FONT} textAnchor="middle" transform={`rotate(-90 ${labelX} ${midY})`}>{label}</text>
    </g>
  )
}

export default function App() {
  const hotStops: [number, string][] = [[0, '#0b0000'], [0.365, '#ff0000'], [0.746, '#ffff00'], [1, '#ffffff']]
  const grayStops: [number, string][] = [[0, '#ffffff'], [1, '#000000']]
  return (
    <div style={{ position: 'absolute', left: 0, top: 0, width: W, height: H, background: '#fff' }}>
      <LineChart width={W} height={H} margin={{ top: 33, right: 230, bottom: 15, left: 19 }}>
        <CartesianGrid stroke="#b0b0b0" strokeWidth={0.8} verticalValues={majorX} horizontalValues={yTicks} />
        <XAxis
          type="number"
          dataKey="conc"
          scale="log"
          domain={[0.01, 50]}
          allowDataOverflow
          ticks={[...majorX, ...minorX]}
          interval={0}
          tick={<ConcTick />}
          tickSize={0}
          tickMargin={0}
          axisLine={false}
          height={30}
        />
        <YAxis
          type="number"
          dataKey="alt"
          domain={[10, 30]}
          allowDataOverflow
          ticks={yTicks}
          interval={0}
          tick={<AltTick />}
          tickSize={0}
          tickMargin={0}
          axisLine={false}
          width={50}
        />
        {wlpcProfiles.map((p, i) => (
          <Line key={`w${i}`} data={rows(p)} dataKey="alt" type="linear" stroke={grayColor(wlpcDates[i])} strokeWidth={1.3} dot={false} activeDot={false} isAnimationActive={false} />
        ))}
        {lopcProfiles.map((p, i) => (
          <Line key={`l${i}`} data={rows(p)} dataKey="alt" type="linear" stroke={hotColor(lopcDates[i])} strokeWidth={1.6} dot={false} activeDot={false} isAnimationActive={false} />
        ))}
      </LineChart>
      <svg width={W} height={H} style={{ position: 'absolute', left: 0, top: 0, pointerEvents: 'none' }}>
        <rect x={plot.left} y={plot.top} width={plot.right - plot.left} height={plot.bottom - plot.top} fill="none" stroke="#000" strokeWidth={1} />
        <text x={437} y={24} textAnchor="middle" fontSize={16.7} fontFamily={FONT}>Cummulative 300nm Aerosol Concentration</text>
        <text x={(plot.left + plot.right) / 2} y={659} textAnchor="middle" fontSize={14} fontFamily={FONT}>
          Aerosol Concentration [cm<tspan dy={-6} fontSize={10}>{'\u22123'}</tspan><tspan dy={6}>]</tspan>
        </text>
        <text x={21} y={326} textAnchor="middle" fontSize={14} fontFamily={FONT} transform="rotate(-90 21 326)">Altitude [km]</text>
        <Colorbar x={668} id="wlpc" stops={grayStops} top={String(wlpcRange[1])} bottom={String(wlpcRange[0])} label="WLPC Profile Date" labelX={757} />
        <Colorbar x={760} id="lopc" stops={hotStops} top={String(lopcRange[1])} bottom={String(lopcRange[0])} label="LOPC Profile Date" labelX={848} />
      </svg>
    </div>
  )
}
